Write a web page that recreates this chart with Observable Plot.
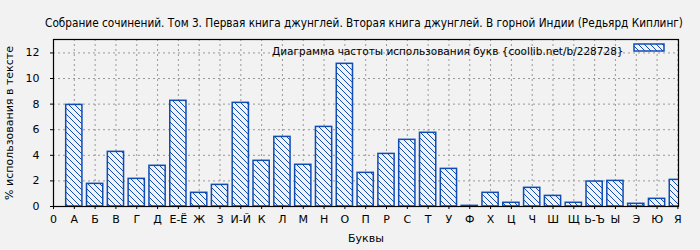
<!DOCTYPE html>
<html>
<head>
<meta charset="utf-8">
<script src="https://cdn.jsdelivr.net/npm/d3@7"></script>
<script src="https://cdn.jsdelivr.net/npm/@observablehq/plot@0.6"></script>
<style>
  html, body { margin: 0; padding: 0; background: #f2f2f2; }
  #chart svg { display: block; }
</style>
</head>
<body>
<div id="chart"></div>
<script>
const title = "Собрание сочинений. Том 3. Первая книга джунглей. Вторая книга джунглей. В горной Индии (Редьярд Киплинг)";
const legendLabel = "Диаграмма частоты использования букв {coollib.net/b/228728}";
const xAxisLabel = "Буквы";
const yAxisLabel = "% использования в тексте";

const tickLabels = ["0", "А", "Б", "В", "Г", "Д", "Е-Ё", "Ж", "З", "И-Й", "К", "Л", "М", "Н", "О", "П", "Р", "С", "Т", "У", "Ф", "Х", "Ц", "Ч", "Ш", "Щ", "Ь-Ъ", "Ы", "Э", "Ю", "Я"];
const letters = ["А", "Б", "В", "Г", "Д", "Е-Ё", "Ж", "З", "И-Й", "К", "Л", "М", "Н", "О", "П", "Р", "С", "Т", "У", "Ф", "Х", "Ц", "Ч", "Ш", "Щ", "Ь-Ъ", "Ы", "Э", "Ю", "Я"];
const values = [7.94, 1.77, 4.27, 2.16, 3.18, 8.26, 1.07, 1.69, 8.10, 3.57, 5.44, 3.26, 6.22, 11.15, 2.63, 4.11, 5.21, 5.76, 2.94, 0.05, 1.07, 0.29, 1.46, 0.83, 0.29, 1.95, 2.00, 0.21, 0.60, 2.08];
const yTicks = [0, 2, 4, 6, 8, 10, 12];

const data = letters.map((letter, k) => ({letter, pos: k + 1, value: values[k]}));
const xTicks = tickLabels.map((_, k) => k);
const halfBar = 0.39;

const blue = "#0f4db5";
const font = "DejaVu Sans, sans-serif";
const condensed = "'DejaVu Sans Condensed', 'DejaVu Sans', sans-serif";

const chart = Plot.plot({
  width: 700,
  height: 250,
  marginLeft: 53,
  marginRight: 22,
  marginTop: 39,
  marginBottom: 44,
  style: {background: "#f2f2f2", fontFamily: font, fontSize: "11px", color: "#000"},
  x: {type: "linear", domain: [0, 30.03]},
  y: {domain: [0, 13.05]},
  marks: [
    Plot.gridX(xTicks, {stroke: "#999", strokeOpacity: 1, strokeDasharray: "2,3"}),
    Plot.gridY(yTicks.slice(1), {stroke: "#999", strokeOpacity: 1, strokeDasharray: "2,3"}),
    Plot.rectY(data, {
      x1: d => d.pos - halfBar,
      x2: d => d.pos + halfBar,
      y1: 0,
      y2: "value",
      fill: "url(#hatch)",
      stroke: blue,
      strokeWidth: 1.5,
      clip: true
    }),
    Plot.frame({stroke: "#000", strokeWidth: 1.2}),
    Plot.axisY({ticks: yTicks, tickSize: 3, tickPadding: 11, label: yAxisLabel, labelAnchor: "center", labelArrow: "none", labelOffset: 48, fontSize: 11}),
    Plot.axisX({ticks: xTicks, tickFormat: k => tickLabels[k], tickSize: 3, tickPadding: 6, label: xAxisLabel, labelAnchor: "center", labelArrow: "none", labelOffset: 35, fontSize: 11}),
    Plot.text([title], {frameAnchor: "top", dx: -2, dy: -21, fontSize: 11.7, fontFamily: condensed, fill: "#000"}),
    Plot.text([legendLabel], {frameAnchor: "top-right", textAnchor: "end", dx: -55, dy: 8, fontSize: 10.5, fill: "#000"})
  ]
});

// hatch pattern definition
const svg = d3.select(chart);
const defs = svg.insert("defs", ":first-child");
const pat = defs.append("pattern")
  .attr("id", "hatch")
  .attr("patternUnits", "userSpaceOnUse")
  .attr("width", 6)
  .attr("height", 6);
pat.append("rect").attr("width", 6).attr("height", 6).attr("fill", "#f2f2f2");
pat.append("path")
  .attr("d", "M-1,-1 L7,7 M-4,2 L2,8 M4,-2 L8,2")
  .attr("stroke", blue)
  .attr("stroke-width", 1)
  .attr("fill", "none");

// legend swatch
svg.append("rect")
  .attr("x", 634).attr("y", 44)
  .attr("width", 30).attr("height", 7)
  .attr("fill", "url(#hatch)")
  .attr("stroke", blue)
  .attr("stroke-width", 1.5);

document.getElementById("chart").appendChild(chart);
</script>
</body>
</html>
